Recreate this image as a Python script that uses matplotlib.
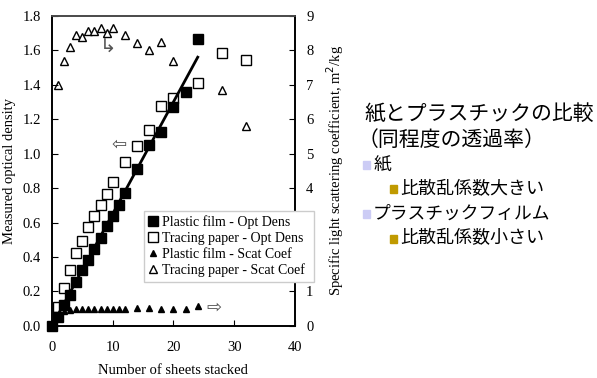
import matplotlib.pyplot as plt
from matplotlib.patches import Rectangle

plt.rcParams['font.family'] = ['Liberation Serif', 'DejaVu Sans']

# optical density (left axis)
plastic_od_x = [0, 1, 2, 3, 4, 5, 6, 7, 8, 9, 10, 11, 12, 14, 16, 18, 20, 22, 24]
plastic_od_y = [0.0, 0.05, 0.12, 0.18, 0.257, 0.325, 0.383, 0.445, 0.509, 0.577,
                0.639, 0.703, 0.77, 0.91, 1.051, 1.128, 1.273, 1.36, 1.665]
tracing_od_x = [1, 2, 3, 4, 5, 6, 7, 8, 9, 10, 12, 14, 16, 18, 20, 24, 28, 32]
tracing_od_y = [0.112, 0.222, 0.325, 0.422, 0.49, 0.573, 0.639, 0.703, 0.767, 0.838,
                0.954, 1.045, 1.138, 1.279, 1.322, 1.413, 1.584, 1.545]
fit_x = [0, 24]
fit_y = [0.0, 1.56]

# scattering coefficient (right axis)
plastic_sc_x = [0, 1, 2, 3, 4, 5, 6, 7, 8, 9, 10, 11, 12, 14, 16, 18, 20, 22, 24]
plastic_sc_y = [0.0, 0.3, 0.42, 0.47, 0.49, 0.5, 0.5, 0.5, 0.5, 0.5, 0.5, 0.5, 0.5,
                0.51, 0.51, 0.49, 0.5, 0.5, 0.57]
tracing_sc_x = [1, 2, 3, 4, 5, 6, 7, 8, 9, 10, 12, 14, 16, 18, 20, 24, 28, 32]
tracing_sc_y = [7.0, 7.7, 8.1, 8.45, 8.4, 8.55, 8.55, 8.65, 8.5, 8.65, 8.45, 8.2,
                8.0, 8.25, 7.7, 7.05, 6.85, 5.8]

# note text on the right: (text, level)
notes = [('紙', 0), ('比散乱係数大きい', 1), ('プラスチックフィルム', 0), ('比散乱係数小さい', 1)]
bullet_colors = ['#ccccf5', '#c09a00']

fig = plt.figure(figsize=(5.97, 3.78), dpi=100)
ax = fig.add_axes([0.087, 0.138, 0.407, 0.82])
ax2 = ax.twinx()

l1, = ax.plot(plastic_od_x, plastic_od_y, 's', color='black', ms=7.5,
              label='Plastic film - Opt Dens', zorder=3, clip_on=False)
l2, = ax.plot(tracing_od_x, tracing_od_y, 's', mfc='white', mec='black', mew=1,
              ms=7.5, label='Tracing paper - Opt Dens', zorder=2, clip_on=False)
ax.plot(fit_x, fit_y, '-', color='black', lw=2, zorder=4)

l3, = ax2.plot(plastic_sc_x, plastic_sc_y, '^', color='black', ms=5,
               label='Plastic film - Scat Coef', clip_on=False)
ax2.plot(plastic_sc_x[:4], plastic_sc_y[:4], '-', color='black', lw=1)
l4, = ax2.plot(tracing_sc_x, tracing_sc_y, '^', mfc='white', mec='black', mew=1,
               ms=6, label='Tracing paper - Scat Coef', clip_on=False)

ax.set_xlim(0, 40)
ax.set_ylim(0, 1.8)
ax2.set_ylim(0, 9)
ax.set_xticks([0, 10, 20, 30, 40])
ax.set_yticks([0.0, 0.2, 0.4, 0.6, 0.8, 1.0, 1.2, 1.4, 1.6, 1.8])
ax.set_yticklabels(['%.1f' % v for v in ax.get_yticks()])
ax2.set_yticks(range(0, 10))

ax.tick_params(axis='both', direction='in', labelsize=10.5, pad=8, length=4)
ax2.tick_params(axis='y', direction='in', labelsize=10.5, pad=8, length=4)
ax.tick_params(axis='x', pad=11)
for a in (ax, ax2):
    for s in a.spines.values():
        s.set_linewidth(1.2)
ax.spines['top'].set_color('#555555')

ax.set_xlabel('Number of sheets stacked', fontsize=10.5, labelpad=7)
ax.set_ylabel('Measured optical density', fontsize=10.5, labelpad=5)
ax2.set_ylabel('Specific light scattering coefficient, m$^2$/kg', fontsize=10.5, labelpad=8)

# direction arrows
ax.text(11, 1.05, '⇦', fontsize=13, color='#555555', ha='center', va='center',
        family='DejaVu Sans')
ax.text(26.6, 0.105, '⇨', fontsize=13, color='#555555', ha='center', va='center',
        family='DejaVu Sans')
ax.text(9.3, 1.62, '↳', fontsize=14, color='#555555', ha='center', va='center',
        family='DejaVu Sans')

leg = ax.legend(handles=[l1, l2, l3, l4], loc='lower left',
                bbox_to_anchor=(0.38, 0.143, 0.70, 0.224), mode='expand',
                fontsize=10, handlelength=0.7, handletextpad=0.3,
                borderpad=0.3, labelspacing=0.2, borderaxespad=0,
                fancybox=False, framealpha=1, edgecolor='#cccccc')
leg.set_zorder(5)
ax.set_zorder(ax2.get_zorder() + 1)
ax.patch.set_visible(False)

# Japanese notes
jp = ['Noto Sans CJK JP', 'DejaVu Sans']
W, H = 597, 378
fig.text(364 / W, 1 - 115 / H, '紙とプラスチックの比較', fontsize=15, family=jp, va='center')
fig.text(358 / W, 1 - 140 / H, '（同程度の透過率）', fontsize=15, family=jp, va='center')
for i, (txt, lvl) in enumerate(notes):
    yc = 165 + i * 24.5
    bx = 363 + lvl * 27
    fig.patches.append(Rectangle((bx / W, 1 - (yc + 4) / H), 7 / W, 8 / H,
                                 transform=fig.transFigure, color=bullet_colors[lvl]))
    fig.text((bx + 10) / W, 1 - yc / H, txt, fontsize=13 if lvl else 12.8,
             family=jp, va='center')

plt.savefig('out.png', dpi=100)
